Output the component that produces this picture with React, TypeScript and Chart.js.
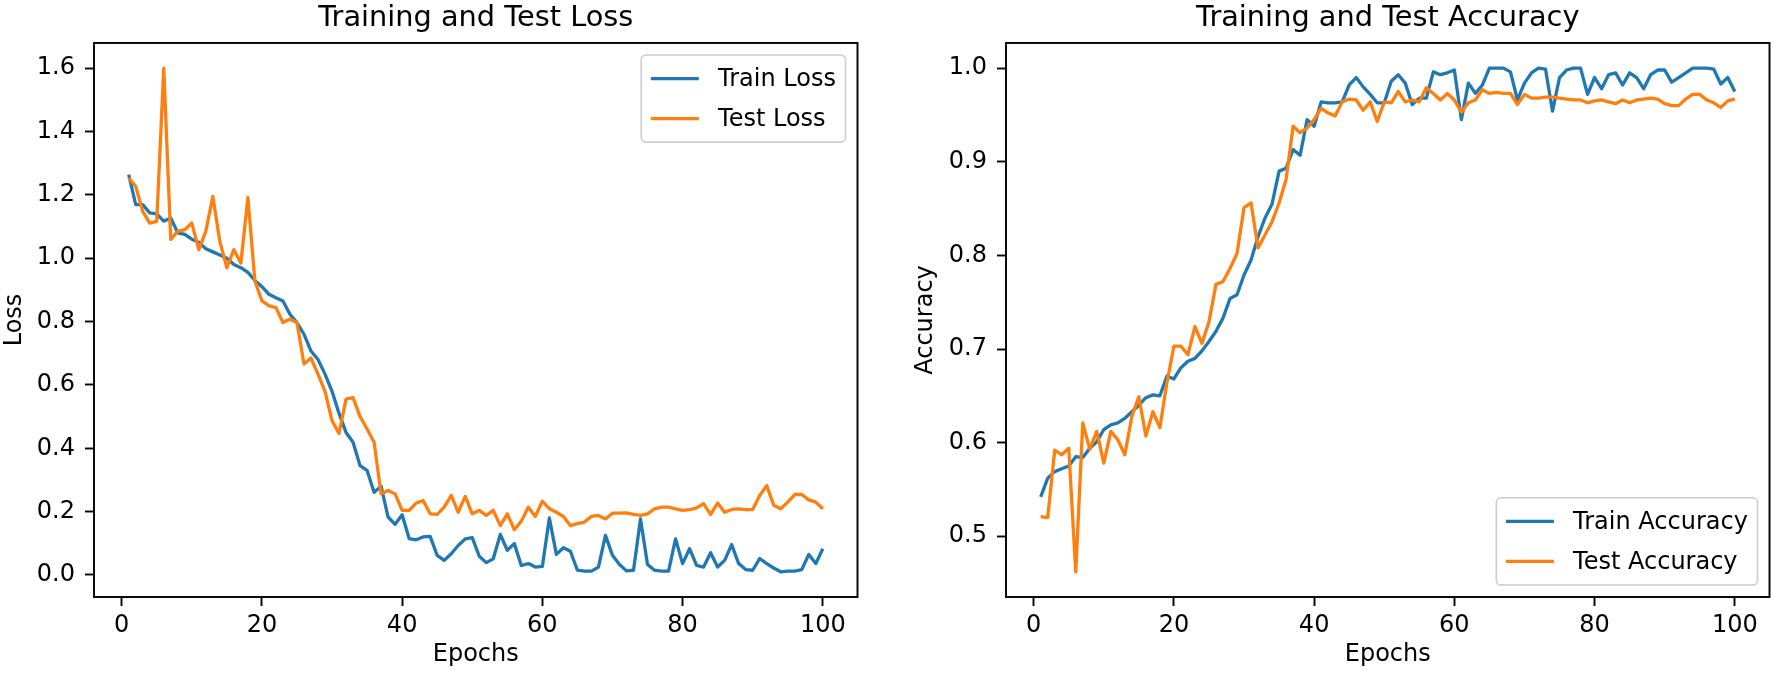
import React, { useEffect, useRef } from "react";
import { Chart, registerables } from "chart.js";

Chart.register(...registerables);

const FONT = "'DejaVu Sans', 'Noto Sans', sans-serif";

// ---------------- data ----------------
const epochs: number[] = Array.from({ length: 100 }, (_, i) => i + 1);

const trainLoss = [
  1.264, 1.169, 1.169, 1.143, 1.14, 1.117, 1.127, 1.08, 1.075, 1.06,
  1.05, 1.03, 1.02, 1.01, 1.0, 0.98, 0.97, 0.955, 0.93, 0.91,
  0.886, 0.875, 0.865, 0.823, 0.797, 0.76, 0.707, 0.68, 0.634, 0.58,
  0.51, 0.45, 0.419, 0.345, 0.33, 0.261, 0.28, 0.183, 0.16, 0.19,
  0.115, 0.111, 0.12, 0.122, 0.062, 0.046, 0.067, 0.093, 0.114, 0.118,
  0.059, 0.039, 0.051, 0.128, 0.078, 0.099, 0.03, 0.036, 0.025, 0.027,
  0.18, 0.065, 0.086, 0.075, 0.015, 0.012, 0.012, 0.025, 0.125, 0.062,
  0.033, 0.013, 0.015, 0.177, 0.033, 0.015, 0.012, 0.012, 0.114, 0.036,
  0.083, 0.03, 0.025, 0.07, 0.025, 0.046, 0.096, 0.036, 0.017, 0.015,
  0.052, 0.036, 0.022, 0.01, 0.012, 0.012, 0.017, 0.065, 0.036, 0.083,
];

const testLoss = [
  1.253, 1.227, 1.148, 1.111, 1.116, 1.6, 1.059, 1.085, 1.09, 1.111,
  1.027, 1.085, 1.195, 1.053, 0.97, 1.027, 0.985, 1.192, 0.928, 0.865,
  0.85, 0.844, 0.797, 0.808, 0.797, 0.666, 0.685, 0.634, 0.58, 0.487,
  0.447, 0.555, 0.56, 0.5, 0.461, 0.419, 0.256, 0.267, 0.256, 0.204,
  0.204, 0.227, 0.235, 0.193, 0.191, 0.214, 0.251, 0.198, 0.248, 0.193,
  0.204, 0.188, 0.204, 0.156, 0.193, 0.143, 0.17, 0.214, 0.185, 0.233,
  0.209, 0.198, 0.185, 0.156, 0.162, 0.167, 0.185, 0.188, 0.177, 0.195,
  0.195, 0.196, 0.191, 0.188, 0.193, 0.209, 0.214, 0.214, 0.209, 0.204,
  0.206, 0.212, 0.225, 0.191, 0.227, 0.198, 0.207, 0.209, 0.206, 0.207,
  0.251, 0.282, 0.22, 0.209, 0.23, 0.254, 0.254, 0.237, 0.23, 0.209,
];

const trainAcc = [
  0.542, 0.562, 0.569, 0.572, 0.575, 0.585, 0.584, 0.594, 0.601, 0.614,
  0.619, 0.621, 0.626, 0.633, 0.64, 0.648, 0.651, 0.65, 0.671, 0.668,
  0.68, 0.687, 0.69, 0.698, 0.708, 0.719, 0.733, 0.754, 0.758, 0.779,
  0.795, 0.82, 0.84, 0.855, 0.89, 0.893, 0.913, 0.907, 0.945, 0.938,
  0.964, 0.963, 0.963, 0.964, 0.982, 0.99, 0.98, 0.972, 0.963, 0.963,
  0.986, 0.993, 0.984, 0.961, 0.968, 0.968, 0.996, 0.993, 0.995, 0.998,
  0.945, 0.984, 0.973, 0.982, 1.0, 1.0, 1.0, 0.996, 0.966, 0.984,
  0.995, 1.0, 0.999, 0.954, 0.99, 0.998, 1.0, 1.0, 0.972, 0.99,
  0.978, 0.993, 0.995, 0.982, 0.995, 0.99, 0.978, 0.993, 0.998, 0.998,
  0.985, 0.99, 0.995, 1.0, 1.0, 1.0, 0.999, 0.983, 0.99, 0.975,
];

const testAcc = [
  0.521, 0.52, 0.592, 0.587, 0.594, 0.462, 0.621, 0.593, 0.612, 0.578,
  0.612, 0.603, 0.587, 0.628, 0.649, 0.607, 0.633, 0.616, 0.664, 0.703,
  0.703, 0.694, 0.724, 0.706, 0.729, 0.769, 0.772, 0.786, 0.802, 0.851,
  0.856, 0.808, 0.822, 0.836, 0.856, 0.881, 0.938, 0.931, 0.936, 0.945,
  0.957, 0.952, 0.949, 0.964, 0.967, 0.966, 0.955, 0.964, 0.943, 0.964,
  0.963, 0.975, 0.964, 0.966, 0.964, 0.979, 0.973, 0.966, 0.973, 0.966,
  0.953, 0.963, 0.966, 0.977, 0.973, 0.974, 0.973, 0.973, 0.961, 0.972,
  0.968, 0.968, 0.969, 0.969, 0.968, 0.967, 0.966, 0.966, 0.963, 0.965,
  0.966, 0.964, 0.962, 0.966, 0.963, 0.966, 0.967, 0.968, 0.967, 0.962,
  0.96, 0.96, 0.967, 0.972, 0.972, 0.966, 0.963, 0.958, 0.965, 0.967,
];

const lossTicks = [0, 0.2, 0.4, 0.6, 0.8, 1.0, 1.2, 1.4, 1.6];
const accTicks = [0.5, 0.6, 0.7, 0.8, 0.9, 1.0];
const epochTicks = [0, 20, 40, 60, 80, 100];

const BLUE = "#1f77b4";
const ORANGE = "#ff7f0e";

// ---------------- helpers ----------------
function paddedRange(values: number[]): [number, number] {
  const lo = Math.min(...values);
  const hi = Math.max(...values);
  const m = (hi - lo) * 0.05;
  return [lo - m, hi + m];
}

type LegendLoc = "upper right" | "lower right";

const FS = 24; // 10pt
const TITLE_FS = 28.8; // 12pt

const framePlugin = {
  id: "mplFrame",
  afterDatasetsDraw(chart: any) {
    const { ctx, chartArea } = chart;
    const { left, top, right, bottom } = chartArea;
    ctx.save();
    ctx.strokeStyle = "#000";
    ctx.lineWidth = 1.9;
    ctx.strokeRect(left, top, right - left, bottom - top);
    ctx.restore();
  },
  afterDraw(chart: any) {
    const loc: LegendLoc = chart.options.plugins.mplFrame?.loc || "upper right";
    const { ctx, chartArea } = chart;
    const items = chart.data.datasets.map((d: any) => ({ label: d.label, color: d.borderColor }));
    ctx.save();
    ctx.font = `${FS}px ${FONT}`;
    const textW = Math.max(...items.map((i: any) => ctx.measureText(i.label).width));
    const pad = 0.4 * FS;
    const handleLen = 2 * FS;
    const handlePad = 0.8 * FS;
    const rowH = 28;
    const spacing = 0.5 * FS;
    const axPad = 0.5 * FS;
    const w = 2 * pad + handleLen + handlePad + textW;
    const h = 2 * pad + items.length * rowH + (items.length - 1) * spacing;
    const x = chartArea.right - axPad - w;
    const y = loc === "upper right" ? chartArea.top + axPad : chartArea.bottom - axPad - h;
    ctx.beginPath();
    (ctx as any).roundRect(x, y, w, h, 0.2 * FS);
    ctx.fillStyle = "rgba(255,255,255,0.8)";
    ctx.fill();
    ctx.strokeStyle = "#cccccc";
    ctx.lineWidth = 1.6;
    ctx.stroke();
    items.forEach((it: any, i: number) => {
      const cy = y + pad + i * (rowH + spacing) + rowH / 2;
      ctx.beginPath();
      ctx.moveTo(x + pad, cy);
      ctx.lineTo(x + pad + handleLen, cy);
      ctx.strokeStyle = it.color;
      ctx.lineWidth = 3.3;
      ctx.lineCap = "butt";
      ctx.stroke();
      ctx.fillStyle = "#000";
      ctx.textBaseline = "middle";
      ctx.textAlign = "left";
      ctx.fillText(it.label, x + pad + handleLen + handlePad, cy + 1);
    });
    ctx.restore();
  },
};

type PanelCfg = {
  title: string;
  yLabel: string;
  series: { label: string; values: number[]; color: string }[];
  yTicks: number[];
  legendLoc: LegendLoc;
  yAxisWidth: number;
  yTitlePad: number;
  padRight: number;
};

const CANVAS_H = 678;
const X_AXIS_H = 81;

function ChartPanel({ cfg, left, width }: { cfg: PanelCfg; left: number; width: number }) {
  const ref = useRef<HTMLCanvasElement>(null);
  useEffect(() => {
    const allY = cfg.series.flatMap((s) => s.values);
    const [yMin, yMax] = paddedRange(allY);
    const [xMin, xMax] = paddedRange(epochs);
    const tickFont = { family: FONT, size: FS, lineHeight: 1.2 };
    const chart = new Chart(ref.current as HTMLCanvasElement, {
      type: "line",
      data: {
        datasets: cfg.series.map((s, i) => ({
          label: s.label,
          data: epochs.map((e, k) => ({ x: e, y: s.values[k] })),
          borderColor: s.color,
          backgroundColor: s.color,
          borderWidth: 3.3,
          pointRadius: 0,
          tension: 0,
          fill: false,
          borderJoinStyle: "round",
          borderCapStyle: "butt",
          order: cfg.series.length - i,
        })),
      },
      options: {
        responsive: false,
        animation: false,
        events: [],
        layout: { padding: { left: 0, right: cfg.padRight, top: 0, bottom: 0 }, autoPadding: false },
        plugins: {
          legend: { display: false },
          tooltip: { enabled: false },
          title: {
            display: true,
            text: cfg.title,
            color: "#000",
            font: { family: FONT, size: TITLE_FS, weight: "normal", lineHeight: 1.2 },
            padding: { top: 1.3, bottom: 7.1 },
            fullSize: false,
          },
          mplFrame: { loc: cfg.legendLoc },
        } as any,
        scales: {
          x: {
            type: "linear",
            min: xMin,
            max: xMax,
            afterBuildTicks: (s: any) => {
              s.ticks = epochTicks.map((v) => ({ value: v }));
            },
            afterFit: (s: any) => {
              s.height = X_AXIS_H;
            },
            border: { display: false },
            grid: {
              display: true,
              drawOnChartArea: false,
              drawTicks: true,
              tickLength: 9,
              tickWidth: 1.9,
              tickColor: "#000",
            },
            ticks: {
              color: "#000",
              font: tickFont,
              padding: 5,
              autoSkip: false,
              maxRotation: 0,
              callback: (v: any) => String(v),
            },
            title: {
              display: true,
              text: "Epochs",
              color: "#000",
              font: { family: FONT, size: FS, lineHeight: 1.2 },
              padding: { top: 0, bottom: 8.6 },
            },
          },
          y: {
            type: "linear",
            min: yMin,
            max: yMax,
            afterBuildTicks: (s: any) => {
              s.ticks = cfg.yTicks.map((v) => ({ value: v }));
            },
            afterFit: (s: any) => {
              s.width = cfg.yAxisWidth;
            },
            border: { display: false },
            grid: {
              display: true,
              drawOnChartArea: false,
              drawTicks: true,
              tickLength: 9,
              tickWidth: 1.9,
              tickColor: "#000",
            },
            ticks: {
              color: "#000",
              font: tickFont,
              padding: 10,
              autoSkip: false,
              callback: (v: any) => Number(v).toFixed(1),
            },
            title: {
              display: true,
              text: cfg.yLabel,
              color: "#000",
              font: { family: FONT, size: FS, lineHeight: 1.2 },
              padding: { top: cfg.yTitlePad, bottom: 0 },
            },
          },
        },
      },
      plugins: [framePlugin as any],
    });
    return () => chart.destroy();
  }, [cfg]);
  return (
    <canvas
      ref={ref}
      width={width}
      height={CANVAS_H}
      style={{ position: "absolute", left, top: 0, width, height: CANVAS_H }}
    />
  );
}

const lossPanel: PanelCfg = {
  title: "Training and Test Loss",
  yLabel: "Loss",
  series: [
    { label: "Train Loss", values: trainLoss, color: BLUE },
    { label: "Test Loss", values: testLoss, color: ORANGE },
  ],
  yTicks: lossTicks,
  legendLoc: "upper right",
  yAxisWidth: 94,
  yTitlePad: 0,
  padRight: 29.5,
};

const accPanel: PanelCfg = {
  title: "Training and Test Accuracy",
  yLabel: "Accuracy",
  series: [
    { label: "Train Accuracy", values: trainAcc, color: BLUE },
    { label: "Test Accuracy", values: testAcc, color: ORANGE },
  ],
  yTicks: accTicks,
  legendLoc: "lower right",
  yAxisWidth: 119,
  yTitlePad: 24.2,
  padRight: 5.5,
};

export default function App() {
  return (
    <div
      style={{
        position: "absolute",
        left: 0,
        top: 0,
        width: 1775,
        height: CANVAS_H,
        background: "#fff",
        overflow: "hidden",
      }}
    >
      <ChartPanel cfg={lossPanel} left={0} width={887} />
      <ChartPanel cfg={accPanel} left={887} width={888} />
    </div>
  );
}
